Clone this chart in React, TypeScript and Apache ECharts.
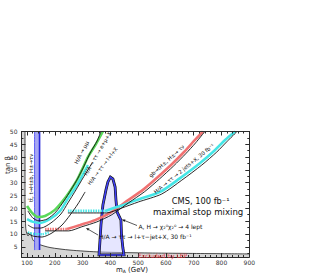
import React, { useEffect, useRef } from "react";
import * as echarts from "echarts";

// ---- axis ticks ----
const X_LABELS = [100, 200, 300, 400, 500, 600, 700, 800, 900];
const Y_LABELS = [5, 10, 15, 20, 25, 30, 35, 40, 45, 50];
const Y_MINOR = [2.5, 7.5, 12.5, 17.5, 22.5, 27.5, 32.5, 37.5, 42.5, 47.5];

// ---- curves (mA GeV, tan beta) ----
const MUMU_GREEN = [[100, 20.9], [118, 18.2], [139, 16.6], [165, 17.0], [200, 19.4], [229, 22.9], [255, 26.8], [280, 31.1], [301, 35.8], [319, 40.0], [348, 45.1], [373, 50]];
const MUMU_BLACK = [[103, 19.0], [121, 16.2], [143, 15.1], [172, 15.8], [204, 18.6], [233, 22.9], [258, 27.2], [283, 31.8], [305, 36.5], [327, 41.6], [352, 46.3], [366, 50]];
const EMU_CYAN = [[100, 15.8], [121, 14.7], [147, 14.3], [183, 15.8], [219, 19.0], [244, 23.3], [273, 27.9], [298, 32.6], [319, 36.9]];
const EMU_BLACK = [[103, 13.5], [125, 12.3], [150, 12.3], [186, 14.3], [222, 17.8], [247, 22.1], [276, 27.2], [301, 31.8], [334, 37.7]];
const LL_BLACK = [[100, 10.4], [121, 9.2], [154, 8.8], [190, 10.4], [226, 13.5], [255, 17.4], [283, 21.7], [309, 26.4]];
const LL_CYAN_HATCH = [[103, 10.6], [125, 10.0], [155, 9.9], [178, 10.6]];
const TAUNU_RED_HATCH = [[165, 11.9], [244, 11.9]];
const TAUNU_RED = [[244, 11.9], [291, 13.5], [345, 15.4], [399, 18.2], [460, 22.9], [517, 27.2], [571, 32.2], [622, 37.3], [665, 42.0], [701, 46.3], [733, 50]];
const TAUNU_BLACK = [[165, 11.2], [250, 11.2], [297, 12.8], [351, 14.7], [405, 17.5], [466, 22.2], [523, 26.5], [577, 31.5], [628, 36.6], [671, 41.3], [707, 45.6], [740, 50]];
const JETS_CYAN_HATCH = [[247, 19.0], [381, 19.0]];
const JETS_CYAN = [[381, 19.0], [435, 20.9], [496, 23.3], [579, 26.4], [651, 31.8], [723, 37.7], [777, 42.8], [813, 46.7], [849, 50]];
const JETS_BLACK = [[247, 18.2], [386, 18.2], [440, 20.1], [501, 22.5], [585, 25.6], [657, 31.0], [729, 36.9], [783, 42.0], [819, 46.0], [856, 50]];
const CHI_PEAK = [[359, 1.8], [362.6, 7.6], [366, 13.5], [373, 21.3], [384, 27.2], [391, 30.3], [400, 32.2], [409, 31.5], [417, 28.3], [420, 23.3], [424, 18.6], [438, 15.4], [440, 9.6], [445, 4.5], [449, 1.8]];
const TTBAR_BAND = [[127, 3.7], [145, 3.7], [145, 50], [127, 50]];
const TTBAR_LEFT = [[127, 3.7], [127, 50]];
const TTBAR_RIGHT = [[145, 3.7], [145, 50]];
const LEP_EDGE = [[92.6, 50], [92.6, 23.3], [94.4, 14.7], [96.2, 11.5], [103.4, 9.2], [112.4, 10.4], [121.4, 7.6], [139.4, 6.1], [182.6, 4.7], [254.6, 3.7], [362.6, 2.95], [542.6, 2.56], [900, 2.2]];
const LEP_CLOSE = [[900, 1], [80, 1], [80, 50]];

const FONT = "'DejaVu Sans', 'Liberation Sans', Arial, sans-serif";
const AX = "#2b2b2b";
const GREEN = "#5ad85a";
const CYAN = "#45e6e6";
const RED = "#f07272";
const BLUE = "#4040f5";

function poly(points: number[][], fill: string, z: number, outline?: { inner: string; outer: string }) {
  return {
    type: "custom",
    coordinateSystem: "cartesian2d",
    xAxisIndex: 0,
    yAxisIndex: 0,
    silent: true,
    z,
    data: [points[0]],
    renderItem: (_p: any, api: any) => {
      const pts = points.map((p) => api.coord(p));
      const children: any[] = [
        { type: "polygon", shape: { points: pts }, style: { fill, stroke: outline ? outline.outer : "none", lineWidth: outline ? 2.8 : 0 } },
      ];
      if (outline) {
        children.push({ type: "polygon", shape: { points: pts }, style: { fill: "none", stroke: outline.inner, lineWidth: 1.6 } });
      }
      return { type: "group", children };
    },
  };
}

function curve(data: number[][], color: string, width: number, z: number, dash?: number[]) {
  return {
    type: "line",
    xAxisIndex: 0,
    yAxisIndex: 0,
    data,
    showSymbol: false,
    symbol: "none",
    smooth: 0.25,
    silent: true,
    z,
    lineStyle: { color, width, type: dash || "solid" },
  };
}

function txt(x: number, y: number, text: string, size: number, opts: any = {}) {
  return {
    type: "text",
    x,
    y,
    rotation: ((opts.rot || 0) * Math.PI) / 180,
    z: opts.z ?? 100,
    style: {
      text,
      fontSize: size,
      fontFamily: FONT,
      fill: opts.color || "#111",
      align: opts.align || "left",
      verticalAlign: "middle",
      fontWeight: opts.weight || "normal",
      rich: opts.rich,
    },
  };
}

function arrow(x1: number, y1: number, x2: number, y2: number) {
  const dx = x2 - x1;
  const dy = y2 - y1;
  const L = Math.sqrt(dx * dx + dy * dy);
  const ux = dx / L;
  const uy = dy / L;
  const hl = 3.2;
  const hw = 1.4;
  const bx = x2 - ux * hl;
  const by = y2 - uy * hl;
  return [
    { type: "line", z: 100, shape: { x1, y1, x2: bx, y2: by }, style: { stroke: "#111", lineWidth: 0.7 } },
    { type: "polygon", z: 100, shape: { points: [[x2, y2], [bx - uy * hw, by + ux * hw], [bx + uy * hw, by - ux * hw]] }, style: { fill: "#111" } },
  ];
}

const xBase = { type: "value", min: 80, max: 900, splitLine: { show: false }, z: 50 };
const yBase = { type: "value", min: 1, max: 50, splitLine: { show: false }, z: 50 };

const option: any = {
  animation: false,
  backgroundColor: "#ffffff",
  grid: { left: 21.5, top: 131.5, width: 227.8, height: 125.5, containLabel: false },
  xAxis: [
    {
      ...xBase,
      position: "bottom",
      axisLine: { onZero: false, lineStyle: { color: AX, width: 1 } },
      axisTick: { inside: true, length: 4, customValues: X_LABELS, lineStyle: { color: AX } },
      axisLabel: { customValues: X_LABELS, fontSize: 6, color: "#333", margin: 2, fontFamily: FONT },
    },
    { ...xBase, position: "bottom", interval: 20, axisLine: { show: false, onZero: false }, axisTick: { inside: true, length: 2, lineStyle: { color: AX } }, axisLabel: { show: false } },
    { ...xBase, position: "top", axisLine: { onZero: false, lineStyle: { color: AX, width: 1 } }, axisTick: { inside: true, length: 4, customValues: X_LABELS, lineStyle: { color: AX } }, axisLabel: { show: false } },
    { ...xBase, position: "top", interval: 20, axisLine: { show: false, onZero: false }, axisTick: { inside: true, length: 2, lineStyle: { color: AX } }, axisLabel: { show: false } },
  ],
  yAxis: [
    {
      ...yBase,
      position: "left",
      axisLine: { onZero: false, lineStyle: { color: AX, width: 1 } },
      axisTick: { inside: true, length: 4, customValues: Y_LABELS, lineStyle: { color: AX } },
      axisLabel: { customValues: Y_LABELS, fontSize: 6, color: "#333", margin: 4, fontFamily: FONT },
    },
    { ...yBase, position: "left", axisLine: { show: false, onZero: false }, axisTick: { inside: true, length: 2, customValues: Y_MINOR, lineStyle: { color: AX } }, axisLabel: { show: false } },
    { ...yBase, position: "right", axisLine: { onZero: false, lineStyle: { color: AX, width: 1 } }, axisTick: { inside: true, length: 4, customValues: Y_LABELS, lineStyle: { color: AX } }, axisLabel: { show: false } },
    { ...yBase, position: "right", axisLine: { show: false, onZero: false }, axisTick: { inside: true, length: 2, customValues: Y_MINOR, lineStyle: { color: AX } }, axisLabel: { show: false } },
  ],
  series: [
    poly([...LEP_EDGE, ...LEP_CLOSE], "#d6d6d6", 1),
    curve(LEP_EDGE, "#222", 0.8, 2),
    poly(TTBAR_BAND, "#a7a7f3", 3),
    curve(TTBAR_LEFT, BLUE, 0.8, 4),
    curve(TTBAR_RIGHT, "#2424d8", 1.6, 4),
    poly(CHI_PEAK, "rgba(200,200,255,0.45)", 5, { inner: BLUE, outer: "#111" }),
    curve(MUMU_GREEN, GREEN, 2.6, 6),
    curve(MUMU_BLACK, "#111", 0.9, 7),
    curve(EMU_CYAN, CYAN, 2.4, 6),
    curve(EMU_BLACK, "#111", 0.9, 7),
    curve(LL_CYAN_HATCH, CYAN, 2.4, 6, [1.5, 1]),
    curve(LL_BLACK, "#111", 0.9, 7),
    curve(TAUNU_RED_HATCH, RED, 2.6, 6, [1.5, 1]),
    curve(TAUNU_RED, RED, 2.6, 6),
    curve(TAUNU_BLACK, "#111", 0.9, 7),
    curve(JETS_CYAN_HATCH, CYAN, 2.6, 6, [1.5, 1]),
    curve(JETS_CYAN, CYAN, 2.6, 6),
    curve(JETS_BLACK, "#111", 0.9, 7),
  ],
  graphic: [
    txt(8, 165, "tan β", 7, { rot: 90, align: "center" }),
    txt(132, 269.5, "m{s|A} (GeV)", 7, { align: "center", rich: { s: { fontSize: 4.5, fontFamily: FONT, fill: "#111", padding: [3, 0, 0, 0] } } }),
    txt(30.5, 178, "tt̄, t→H±b, H±→τν", 5.3, { rot: 90, align: "center" }),
    txt(81.5, 152.5, "H/A → μμ", 5.5, { rot: 62, align: "center" }),
    txt(97.5, 153.5, "H/A → ττ → e+μ+X", 5.2, { rot: 60, align: "center" }),
    txt(102.5, 166, "H/A → ττ → l+l+X", 5.2, { rot: 53, align: "center" }),
    txt(166.5, 161, "gb→tH±, H±→ τν", 5.3, { rot: 42, align: "center" }),
    txt(184, 168.5, "H/A → ττ → 2 jets+X, 30 fb⁻¹", 5.3, { rot: 39, align: "center" }),
    txt(171.7, 201, "CMS, 100 fb⁻¹", 8.3),
    txt(153, 211.5, "maximal stop mixing", 8.6),
    txt(138.5, 226.7, "A, H → χ₂⁰χ₂⁰ → 4 lept", 6),
    txt(99, 236.7, "H/A → ττ → l+τ−jet+X, 30 fb⁻¹", 6),
    txt(138, 255.2, "Excluded by LEP", 6, { color: "#e3343a" }),
    ...arrow(137, 225.5, 122, 219.5),
    ...arrow(98, 235, 86, 228),
  ],
};

export default function App() {
  const ref = useRef<HTMLDivElement>(null);
  useEffect(() => {
    document.body.style.margin = "0";
    const chart = echarts.init(ref.current as HTMLDivElement, null, { renderer: "svg" });
    chart.setOption(option);
    return () => chart.dispose();
  }, []);
  return <div ref={ref} style={{ width: 327, height: 273 }} />;
}
